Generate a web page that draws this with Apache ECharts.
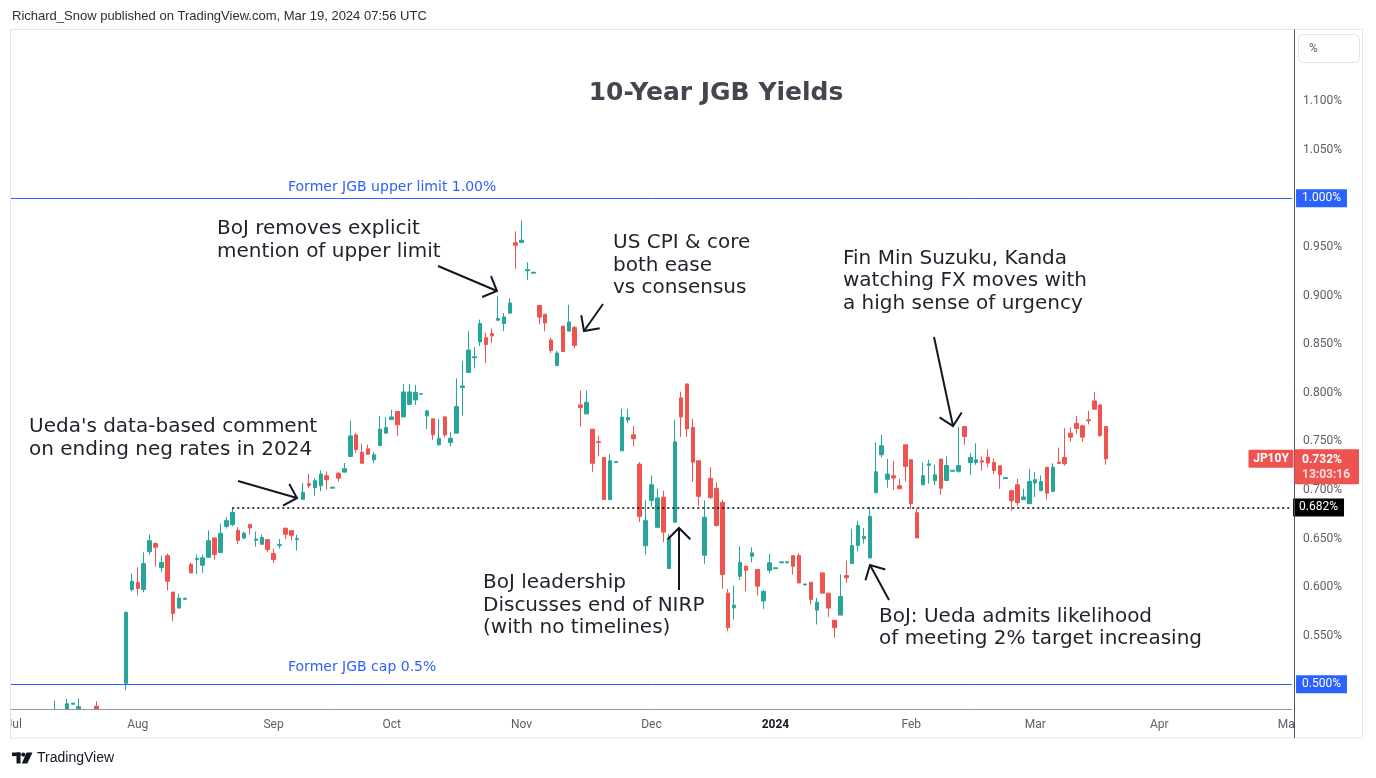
<!DOCTYPE html>
<html>
<head>
<meta charset="utf-8">
<script src="https://cdn.jsdelivr.net/npm/echarts@6/dist/echarts.min.js"></script>
<style>
html,body{margin:0;padding:0;background:#ffffff;}
#c{width:1376px;height:778px;}
</style>
</head>
<body>
<div id="c"></div>
<script>
// ---------- DATA ----------
const skippedDays = ['2023-09-04'];           // day missing from the bar sequence
const axisFirstDay = '2023-07-03';
const axisLastDay = '2024-05-01';

const candleDates = [
  '2023-07-12','2023-07-14','2023-07-17','2023-07-18','2023-07-21','2023-07-28','2023-07-31',
  '2023-08-01','2023-08-02','2023-08-03','2023-08-04','2023-08-07','2023-08-08','2023-08-09','2023-08-10','2023-08-11',
  '2023-08-14','2023-08-15','2023-08-16','2023-08-17','2023-08-18','2023-08-21','2023-08-22','2023-08-23','2023-08-24',
  '2023-08-25','2023-08-28','2023-08-29','2023-08-30','2023-08-31',
  '2023-09-01','2023-09-05','2023-09-06','2023-09-07','2023-09-08','2023-09-11','2023-09-12','2023-09-13','2023-09-14',
  '2023-09-15','2023-09-18','2023-09-19','2023-09-20','2023-09-21','2023-09-22','2023-09-25','2023-09-26','2023-09-27',
  '2023-09-28','2023-09-29',
  '2023-10-02','2023-10-03','2023-10-04','2023-10-05','2023-10-06','2023-10-09','2023-10-10','2023-10-11','2023-10-12',
  '2023-10-13','2023-10-16','2023-10-17','2023-10-18','2023-10-19','2023-10-20','2023-10-23','2023-10-24','2023-10-25',
  '2023-10-26','2023-10-27','2023-10-30','2023-10-31',
  '2023-11-01','2023-11-02','2023-11-03','2023-11-06','2023-11-07','2023-11-08','2023-11-09','2023-11-10','2023-11-13',
  '2023-11-14','2023-11-15','2023-11-16','2023-11-17','2023-11-20','2023-11-21','2023-11-22','2023-11-23','2023-11-24',
  '2023-11-27','2023-11-28','2023-11-29','2023-11-30',
  '2023-12-01','2023-12-04','2023-12-05','2023-12-06','2023-12-07','2023-12-08','2023-12-11','2023-12-12','2023-12-13',
  '2023-12-14','2023-12-15','2023-12-18','2023-12-19','2023-12-20','2023-12-21','2023-12-22','2023-12-25','2023-12-26',
  '2023-12-27','2023-12-28','2023-12-29',
  '2024-01-01','2024-01-02','2024-01-03','2024-01-04','2024-01-05','2024-01-08','2024-01-09','2024-01-10','2024-01-11',
  '2024-01-12','2024-01-15','2024-01-16','2024-01-17','2024-01-18','2024-01-19','2024-01-22','2024-01-23','2024-01-24',
  '2024-01-25','2024-01-26','2024-01-29','2024-01-30','2024-01-31',
  '2024-02-01','2024-02-02','2024-02-05','2024-02-06','2024-02-07','2024-02-08','2024-02-09','2024-02-12','2024-02-13',
  '2024-02-14','2024-02-15','2024-02-16','2024-02-19','2024-02-20','2024-02-21','2024-02-22','2024-02-23','2024-02-26',
  '2024-02-27','2024-02-28','2024-02-29',
  '2024-03-01','2024-03-04','2024-03-05','2024-03-06','2024-03-07','2024-03-08','2024-03-11','2024-03-12','2024-03-13',
  '2024-03-14','2024-03-15','2024-03-18','2024-03-19'
];

// [open, high, low, close]  (%)
const candleOHLC = [
  [0.440,0.483,0.435,0.455],[0.460,0.485,0.455,0.480],[0.4795,0.481,0.479,0.4805],[0.465,0.4855,0.460,0.477],
  [0.4775,0.4825,0.465,0.470],[0.501,0.575,0.494,0.574],[0.5975,0.614,0.5955,0.606],
  // Aug
  [0.6047,0.6204,0.5917,0.5986],[0.5975,0.6358,0.5947,0.6242],[0.6366,0.654,0.6335,0.6478],[0.6448,0.646,0.6211,0.641],
  [0.6201,0.6324,0.6153,0.6253],[0.6324,0.6345,0.5965,0.606],[0.5949,0.595,0.565,0.5729],[0.5784,0.5934,0.5784,0.5887],
  [0.5875,0.589,0.587,0.5885],[0.6232,0.6255,0.6146,0.6146],[0.6283,0.6335,0.6136,0.6294],[0.6225,0.6335,0.6146,0.6301],
  [0.6307,0.6584,0.630,0.6478],[0.6506,0.6506,0.6283,0.6335],[0.6355,0.6653,0.635,0.6554],[0.6625,0.6722,0.6602,0.6684],
  [0.6643,0.6815,0.6625,0.677],[0.6584,0.6615,0.6443,0.6481],[0.6506,0.6571,0.6489,0.6555],[0.6643,0.6653,0.654,0.6609],
  [0.6481,0.6571,0.6417,0.6495],[0.6441,0.654,0.6437,0.651],[0.6489,0.6489,0.6358,0.6386],
  // Sep
  [0.6345,0.6396,0.6248,0.6283],[0.6427,0.6495,0.6396,0.6437],[0.6606,0.661,0.6495,0.6544],[0.6581,0.6581,0.6478,0.6533],
  [0.6489,0.654,0.6376,0.6499],[0.6903,0.7071,0.6903,0.6975],[0.7064,0.7166,0.7017,0.7046],[0.7023,0.7121,0.694,0.7095],
  [0.7043,0.720,0.6985,0.7163],[0.7146,0.719,0.7002,0.7105],[0.7018,0.7028,0.7018,0.7028],[0.7172,0.7179,0.7087,0.7121],
  [0.7183,0.7276,0.7183,0.7218],[0.7345,0.7712,0.7345,0.7556],[0.7567,0.7584,0.7382,0.7417],[0.7387,0.7474,0.7274,0.7274],
  [0.7423,0.7464,0.7361,0.7368],[0.731,0.739,0.7274,0.7361],[0.7457,0.7762,0.7447,0.7625],[0.7584,0.7749,0.7584,0.7642],
  // Oct
  [0.7724,0.7823,0.7724,0.7751],[0.7807,0.7807,0.7556,0.767],[0.7751,0.809,0.7751,0.8008],[0.7879,0.809,0.7879,0.8008],
  [0.7926,0.808,0.7875,0.8002],[0.7985,0.7995,0.798,0.799],[0.7762,0.7823,0.7625,0.7813],[0.7731,0.7731,0.7515,0.7567],
  [0.7464,0.7731,0.7457,0.7532],[0.7751,0.7762,0.754,0.7567],[0.7488,0.7594,0.7447,0.7532],[0.7584,0.8148,0.7584,0.7858],
  [0.8053,0.8326,0.7765,0.807],[0.8209,0.8634,0.8209,0.8439],[0.836,0.847,0.825,0.837],[0.8522,0.8752,0.848,0.8712],
  [0.8566,0.8617,0.8306,0.8495],[0.8609,0.8661,0.8511,0.8585],[0.8747,0.8992,0.8737,0.8764],[0.8712,0.8819,0.8634,0.878],
  [0.8819,0.8973,0.8819,0.8922],[0.9543,0.9661,0.9275,0.9517],
  // Nov
  [0.9545,0.9774,0.9545,0.9569],[0.9255,0.9343,0.9158,0.9267],[0.923,0.924,0.923,0.924],[0.8897,0.8897,0.8706,0.8778],
  [0.8808,0.8808,0.8631,0.8717],[0.8542,0.8566,0.8408,0.8434],[0.828,0.8429,0.828,0.8408],[0.8686,0.8686,0.8424,0.8424],
  [0.8634,0.8906,0.8634,0.8727],[0.8672,0.8686,0.846,0.8487],[0.7875,0.8022,0.7652,0.7847],[0.7782,0.8022,0.7782,0.7902],
  [0.7625,0.7625,0.7187,0.7274],[0.7496,0.756,0.7345,0.7488],[0.7335,0.7335,0.690,0.6901],[0.690,0.7369,0.690,0.730],
  [0.7281,0.7291,0.7281,0.7291],[0.7402,0.7834,0.7402,0.7749],[0.7721,0.7834,0.7687,0.7745],[0.7567,0.7659,0.7447,0.7526],
  [0.7265,0.7286,0.6668,0.6728],[0.6425,0.6892,0.6335,0.6684],
  // Dec
  [0.6892,0.7149,0.6828,0.7053],[0.6615,0.7012,0.6615,0.6917],[0.6924,0.6992,0.6465,0.6566],[0.6191,0.6547,0.6191,0.6499],
  [0.6668,0.7721,0.6668,0.7495],[0.7947,0.8011,0.7546,0.7751],[0.809,0.8097,0.7546,0.7628],[0.7642,0.7731,0.7084,0.7286],
  [0.730,0.730,0.6838,0.6934],[0.6328,0.6892,0.624,0.6718],[0.7119,0.7233,0.691,0.692],[0.7017,0.7079,0.6623,0.6633],
  [0.6871,0.690,0.5982,0.6129],[0.5938,0.5982,0.5547,0.5582],[0.5787,0.6016,0.5667,0.5814],[0.6112,0.642,0.6071,0.6255],
  [0.6214,0.622,0.5958,0.6173],[0.6317,0.641,0.6255,0.6352],[0.6181,0.6181,0.5914,0.6009],[0.5858,0.5975,0.5776,0.5955],
  [0.6173,0.6345,0.614,0.625],
  // Jan
  [0.6189,0.6199,0.6189,0.6199],[0.6250,0.6260,0.6250,0.6260],[0.6250,0.6260,0.6250,0.6260],[0.6324,0.6324,0.6129,0.6214],
  [0.6324,0.6352,0.6043,0.6043],[0.6022,0.6032,0.6022,0.6032],[0.605,0.605,0.5821,0.5873],[0.5763,0.589,0.5616,0.5845],
  [0.6146,0.6146,0.5938,0.5938],[0.5938,0.5938,0.5692,0.5784],[0.5659,0.5659,0.5479,0.5582],[0.5712,0.6129,0.5712,0.5903],
  [0.6119,0.6273,0.6043,0.6095],[0.6243,0.6599,0.6243,0.6427],[0.6427,0.6684,0.6368,0.6633],[0.6499,0.6608,0.6448,0.6522],
  [0.630,0.6826,0.630,0.6728],[0.6971,0.7488,0.6971,0.7187],[0.7361,0.7567,0.7338,0.7454],[0.7109,0.7318,0.7023,0.7163],
  [0.7146,0.730,0.700,0.7122],[0.7043,0.7115,0.7012,0.7012],[0.7464,0.7464,0.7087,0.7242],
  // Feb
  [0.731,0.731,0.6803,0.6858],[0.6766,0.6812,0.6506,0.6506],[0.7053,0.7282,0.7053,0.7146],[0.7254,0.731,0.7064,0.7268],
  [0.7094,0.7259,0.7053,0.7156],[0.7318,0.7318,0.695,0.7017],[0.7097,0.7345,0.7097,0.7251],[0.7192,0.7202,0.7192,0.7202],
  [0.7192,0.7646,0.7176,0.7251],[0.7652,0.7652,0.7464,0.7549],[0.7282,0.7382,0.7156,0.7333],[0.7282,0.7481,0.7259,0.731],
  [0.730,0.7345,0.7197,0.7286],[0.7337,0.742,0.7233,0.7276],[0.7282,0.7325,0.7166,0.720],[0.7249,0.7249,0.7012,0.7156],
  [0.7117,0.7127,0.7117,0.7127],[0.6992,0.7002,0.6786,0.6889],[0.7053,0.7115,0.6838,0.6869],[0.690,0.7012,0.690,0.6927],
  [0.6858,0.7218,0.6858,0.7087],
  // Mar
  [0.707,0.7183,0.6927,0.7105],[0.6992,0.7149,0.6992,0.7087],[0.7233,0.7233,0.690,0.6967],[0.6985,0.7274,0.6985,0.7233],
  [0.7286,0.7436,0.7272,0.7272],[0.7333,0.7636,0.7249,0.7269],[0.7584,0.7643,0.7495,0.7543],[0.7684,0.7762,0.7574,0.7633],
  [0.7659,0.767,0.7495,0.7543],[0.7721,0.7813,0.7674,0.7711],[0.7916,0.8005,0.7831,0.7831],[0.7875,0.7875,0.7546,0.756],
  [0.7652,0.7652,0.7259,0.732]
];

const monthTickDates = ['2023-07-03','2023-08-01','2023-09-01','2023-10-02','2023-11-01','2023-12-01','2024-01-01','2024-02-01','2024-03-01','2024-04-01','2024-05-01'];
const monthTickLabels = ['Jul','Aug','Sep','Oct','Nov','Dec','2024','Feb','Mar','Apr','May'];
const yTickValues = [0.50,0.55,0.60,0.65,0.70,0.75,0.80,0.85,0.90,0.95,1.00,1.05,1.10];

const capLevel = 0.5;
const upperLevel = 1.0;
const supportLevel = 0.682;
const supportStart = '2023-08-23';
const lastPrice = 0.732;
const yMin = 0.4746, yMax = 1.1732;

// ---------- BUILD ----------
function buildAxisDates() {
  const out = [];
  const start = Date.parse(axisFirstDay + 'T00:00:00Z');
  const end = Date.parse(axisLastDay + 'T00:00:00Z');
  for (let t = start; t <= end; t += 86400000) {
    const d = new Date(t);
    const wd = d.getUTCDay();
    const s = d.toISOString().slice(0, 10);
    if (wd !== 0 && wd !== 6 && skippedDays.indexOf(s) < 0) out.push(s);
  }
  return out;
}
const axisDates = buildAxisDates();
const candleMap = {};
candleDates.forEach((d, i) => { candleMap[d] = candleOHLC[i]; });
const seriesData = axisDates.map(d => {
  const v = candleMap[d];
  return v ? [v[0], v[3], v[2], v[1]] : ['-', '-', '-', '-'];
});
const tickMap = {};
monthTickDates.forEach((d, i) => { tickMap[d] = monthTickLabels[i]; });

const UP = '#26a69a', DOWN = '#ef5350';
const INK = '#131722';
const AXIS_TXT = '#5d606b';

function boxLabel(bg, txt) {
  return {
    show: true, position: 'end', distance: 4, formatter: txt,
    color: '#ffffff', backgroundColor: bg, padding: [3, 6, 2, 6],
    fontSize: 12, fontFamily: 'Roboto', lineHeight: 13
  };
}

function txt(text, x, y, font, fill, align) {
  return {
    type: 'text', z: 120, silent: true,
    style: { text: text, x: x, y: y, font: font, fill: fill,
      align: align || 'left', verticalAlign: 'middle',
      textAlign: align || 'left', textVerticalAlign: 'middle' }
  };
}

function arrow(tail, tip, len, angDeg) {
  const ang = Math.atan2(tail[1] - tip[1], tail[0] - tip[0]);
  const a = angDeg * Math.PI / 180;
  const p1 = [tip[0] + len * Math.cos(ang + a), tip[1] + len * Math.sin(ang + a)];
  const p2 = [tip[0] + len * Math.cos(ang - a), tip[1] + len * Math.sin(ang - a)];
  return [
    { type: 'polyline', z: 120, silent: true, shape: { points: [tail, tip] }, style: { stroke: INK, lineWidth: 2, fill: null } },
    { type: 'polyline', z: 120, silent: true, shape: { points: [p1, tip, p2] }, style: { stroke: INK, lineWidth: 2, fill: null, lineJoin: 'miter' } }
  ];
}

const annFont = '20px "DejaVu Sans"';
const annColor = '#1e222d';

const staticGraphics = [
  // area below the price pane (hides candle parts that fall under the pane bottom)
  { type: 'rect', z: 50, silent: true, shape: { x: 0, y: 709.6, width: 1376, height: 68.4 }, style: { fill: '#ffffff' } },
  // frame
  { type: 'rect', z: 110, silent: true, shape: { x: 10.5, y: 29.5, width: 1352, height: 708.5 }, style: { fill: null, stroke: '#e0e3eb', lineWidth: 1 } },
  // masks that clip x-axis labels at pane edges
  { type: 'rect', z: 105, silent: true, shape: { x: 0, y: 711, width: 10.5, height: 26 }, style: { fill: '#ffffff' } },
  { type: 'rect', z: 105, silent: true, shape: { x: 1295, y: 711, width: 67, height: 26 }, style: { fill: '#ffffff' } },
  // price-scale separator
  { type: 'line', z: 111, silent: true, shape: { x1: 1294.5, y1: 29.5, x2: 1294.5, y2: 738 }, style: { stroke: '#50535e', lineWidth: 1 } },
  // % box
  { type: 'rect', z: 112, silent: true, shape: { x: 1298.5, y: 34.5, width: 61, height: 28, r: 5 }, style: { fill: '#ffffff', stroke: '#e0e3eb', lineWidth: 1 } },
  txt('%', 1309, 48.5, '12px Roboto', AXIS_TXT),
  // header / footer
  txt('Richard_Snow published on TradingView.com, Mar 19, 2024 07:56 UTC', 12, 16, '13px "Liberation Sans"', '#2a2e39'),
  { type: 'rect', z: 120, silent: true, shape: { x: 12, y: 752.5, width: 8.5, height: 3.6 }, style: { fill: INK } },
  { type: 'rect', z: 120, silent: true, shape: { x: 16.5, y: 752.5, width: 4, height: 11 }, style: { fill: INK } },
  { type: 'circle', z: 120, silent: true, shape: { cx: 23.3, cy: 754.6, r: 2.1 }, style: { fill: INK } },
  { type: 'polygon', z: 120, silent: true, shape: { points: [[26.5, 752.5], [32.5, 752.5], [27.3, 763.5], [21.8, 763.5]] }, style: { fill: INK } },
  txt('TradingView', 37, 758.5, '14px "Liberation Sans"', INK),
  // title
  txt('10-Year JGB Yields', 716, 93, 'bold 25px "DejaVu Sans"', '#434651', 'center'),
  // level captions
  txt('Former JGB upper limit 1.00%', 288, 187, '14px "DejaVu Sans"', '#2962ff'),
  txt('Former JGB cap 0.5%', 288, 667, '14px "DejaVu Sans"', '#2962ff'),
  // annotations
  txt('BoJ removes explicit', 217, 229, annFont, annColor),
  txt('mention of upper limit', 217, 252, annFont, annColor),
  txt('US CPI & core', 613, 243, annFont, annColor),
  txt('both ease', 613, 266, annFont, annColor),
  txt('vs consensus', 613, 288, annFont, annColor),
  txt('Fin Min Suzuku, Kanda', 843, 259, annFont, annColor),
  txt('watching FX moves with', 843, 281, annFont, annColor),
  txt('a high sense of urgency', 843, 304, annFont, annColor),
  txt("Ueda's data-based comment", 29, 427, annFont, annColor),
  txt('on ending neg rates in 2024', 29, 450, annFont, annColor),
  txt('BoJ leadership', 483, 583, annFont, annColor),
  txt('Discusses end of NIRP', 483, 606, annFont, annColor),
  txt('(with no timelines)', 483, 628, annFont, annColor),
  txt('BoJ: Ueda admits likelihood', 879, 617, annFont, annColor),
  txt('of meeting 2% target increasing', 879, 639, annFont, annColor)
].concat(
  arrow([438, 266], [497, 291], 16, 45),
  arrow([603, 304], [584, 331], 16, 45),
  arrow([934, 337], [953, 426], 16, 45),
  arrow([238, 481], [297, 498], 16, 45),
  arrow([679, 590], [679, 528], 16, 45),
  arrow([889, 600], [870, 565], 16, 45)
);

const chart = echarts.init(document.getElementById('c'), null, { renderer: 'canvas' });
chart.setOption({
  animation: false,
  backgroundColor: '#ffffff',
  grid: { left: 10.85, right: 83.95, top: 30, bottom: 69, containLabel: false },
  xAxis: {
    type: 'category', data: axisDates, boundaryGap: true, z: 60,
    axisLine: { show: true, lineStyle: { color: '#9598a1', width: 1 } },
    axisTick: { show: false },
    splitLine: { show: false },
    axisLabel: {
      interval: function (index, value) { return tickMap.hasOwnProperty(value); },
      formatter: function (value) {
        const t = tickMap[value];
        if (!t) return '';
        return t === '2024' ? '{y|2024}' : t;
      },
      color: AXIS_TXT, fontSize: 12, fontFamily: 'Roboto', margin: 10,
      rich: { y: { fontWeight: 'bold', color: INK, fontSize: 12, fontFamily: 'Roboto' } }
    }
  },
  yAxis: {
    type: 'value', position: 'right', min: yMin, max: yMax, scale: true,
    axisLine: { show: false },
    axisTick: { show: false },
    splitLine: { show: false },
    axisLabel: {
      customValues: yTickValues,
      formatter: function (v) { return v.toFixed(3) + '%'; },
      color: AXIS_TXT, fontSize: 12, fontFamily: 'Roboto', margin: 11
    }
  },
  series: [{
    type: 'candlestick',
    data: seriesData,
    clip: true,
    barWidth: 4,
    itemStyle: { color: UP, color0: DOWN, borderColor: UP, borderColor0: DOWN, borderWidth: 1 },
    markLine: {
      silent: true, animation: false, symbol: ['none', 'none'],
      data: [
        { yAxis: upperLevel, lineStyle: { color: '#2962ff', width: 1, type: 'solid' }, label: boxLabel('#2962ff', '1.000%') },
        { yAxis: capLevel, lineStyle: { color: '#2962ff', width: 1, type: 'solid' }, label: boxLabel('#2962ff', '0.500%') },
        [
          { coord: [supportStart, supportLevel], lineStyle: { color: '#000000', width: 1.5, type: [2, 3] }, label: boxLabel('#000000', '0.682%') },
          { coord: [axisDates[axisDates.length - 1], supportLevel] }
        ]
      ]
    }
  }],
  graphic: { elements: staticGraphics }
});

// last-price tag, placed through the value axis
const yLast = chart.convertToPixel({ yAxisIndex: 0 }, lastPrice);
const tagGraphics = [
  { type: 'rect', z: 115, silent: true, shape: { x: 1248.5, y: yLast - 9, width: 45, height: 18, r: 1 }, style: { fill: DOWN } },
  txt('JP10Y', 1271, yLast, 'bold 12px Roboto', '#ffffff', 'center'),
  { type: 'rect', z: 115, silent: true, shape: { x: 1294.5, y: yLast - 9.5, width: 64.5, height: 35, r: 1 }, style: { fill: DOWN } },
  txt(lastPrice.toFixed(3) + '%', 1302, yLast + 1, 'bold 12px Roboto', '#ffffff'),
  txt('13:03:16', 1302, yLast + 16, 'bold 12px Roboto', '#ffdede')
];
chart.setOption({ graphic: { elements: staticGraphics.concat(tagGraphics) } });
</script>
</body>
</html>
